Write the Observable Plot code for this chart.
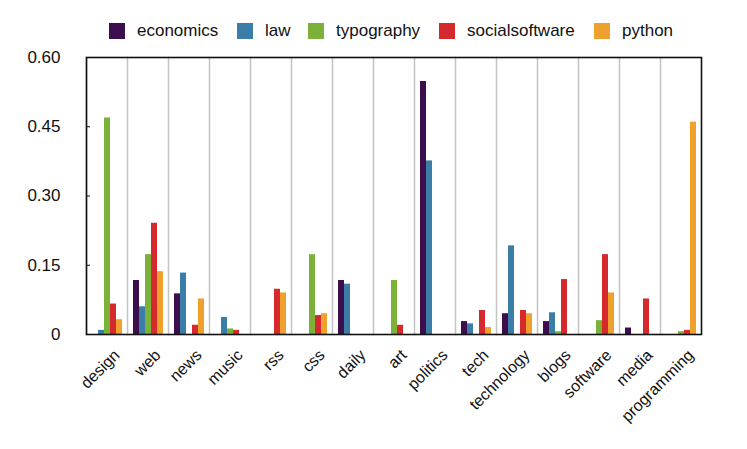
<!DOCTYPE html>
<html>
<head>
<meta charset="utf-8">
<script src="https://cdn.jsdelivr.net/npm/d3@7"></script>
<script src="https://cdn.jsdelivr.net/npm/@observablehq/plot@0.6"></script>
<style>
  html, body { margin: 0; padding: 0; background: #fff; }
  body { width: 747px; height: 449px; overflow: hidden; font-family: "Liberation Sans", Arial, Helvetica, sans-serif; }
  #legend { position: relative; height: 46px; }
  #legend .item { position: absolute; top: 23px; display: flex; align-items: center; height: 16px; }
  #legend .sw { width: 16px; height: 16px; margin-right: 12px; }
  #legend .lab { font-size: 17px; color: #111; line-height: 16px; }
</style>
</head>
<body>
<div id="legend"></div>
<div id="chart"></div>
<script>
const categories = ["design","web","news","music","rss","css","daily","art","politics","tech","technology","blogs","software","media","programming"];
const series = ["economics","law","typography","socialsoftware","python"];
const colors = ["#3c0e4d","#3a7da6","#7cb23a","#d5292e","#f0a02c"];
const economics      = [0,     0.117, 0.088, 0,     0,     0,     0.117, 0,     0.548, 0.028, 0.045, 0.028, 0,     0.014, 0];
const law            = [0.009, 0.060, 0.133, 0.037, 0,     0,     0.109, 0,     0.376, 0.023, 0.192, 0.047, 0,     0,     0];
const typography     = [0.469, 0.173, 0,     0.012, 0,     0.173, 0,     0.117, 0,     0,     0,     0.006, 0.030, 0,     0.006];
const socialsoftware = [0.066, 0.241, 0.020, 0.009, 0.098, 0.041, 0,     0.020, 0,     0.052, 0.052, 0.119, 0.173, 0.077, 0.009];
const python         = [0.032, 0.136, 0.077, 0,     0.090, 0.045, 0,     0,     0,     0.015, 0.045, 0,     0.090, 0,     0.460];
const yTicks = [0, 0.15, 0.30, 0.45, 0.60];

const valuesBySeries = {economics, law, typography, socialsoftware, python};
const data = [];
categories.forEach((c, i) => series.forEach(s => data.push({category: c, series: s, value: valuesBySeries[s][i]})));

// legend
const legendX = [109, 237, 308, 439, 594];
const legend = document.getElementById("legend");
series.forEach((s, i) => {
  const it = document.createElement("div");
  it.className = "item";
  it.style.left = legendX[i] + "px";
  it.innerHTML = `<div class="sw" style="background:${colors[i]}"></div><div class="lab">${s}</div>`;
  legend.appendChild(it);
});

const chart = Plot.plot({
  width: 747,
  height: 403,
  marginLeft: 83,
  marginRight: 43,
  marginTop: 11,
  marginBottom: 115,
  style: {fontFamily: "'Liberation Sans', Arial, Helvetica, sans-serif", fontSize: "16px", color: "#111"},
  fx: {domain: categories, padding: 0, label: null},
  x: {domain: series, paddingInner: 0, paddingOuter: 0.46, axis: null},
  y: {domain: [0, 0.6], label: null},
  color: {domain: series, range: colors},
  marks: [
    Plot.frame({anchor: "left", stroke: "#c4c4c4", strokeWidth: 1.5}),
    Plot.barY(data, {fx: "category", x: "series", y: "value", fill: "series", inset: 0}),
    Plot.axisY({ticks: yTicks, tickFormat: d => d === 0 ? "0" : d.toFixed(2), tickSize: -4, tickPadding: 30, fontSize: 17, label: null}),
    Plot.axisFx({anchor: "bottom", tickRotate: -45, tickSize: 0, tickPadding: 10, fontSize: 16, dx: 10, dy: 8, label: null}),
    Plot.frame({facet: "super", stroke: "#111", strokeWidth: 1.6})
  ]
});
document.getElementById("chart").appendChild(chart);
</script>
</body>
</html>
